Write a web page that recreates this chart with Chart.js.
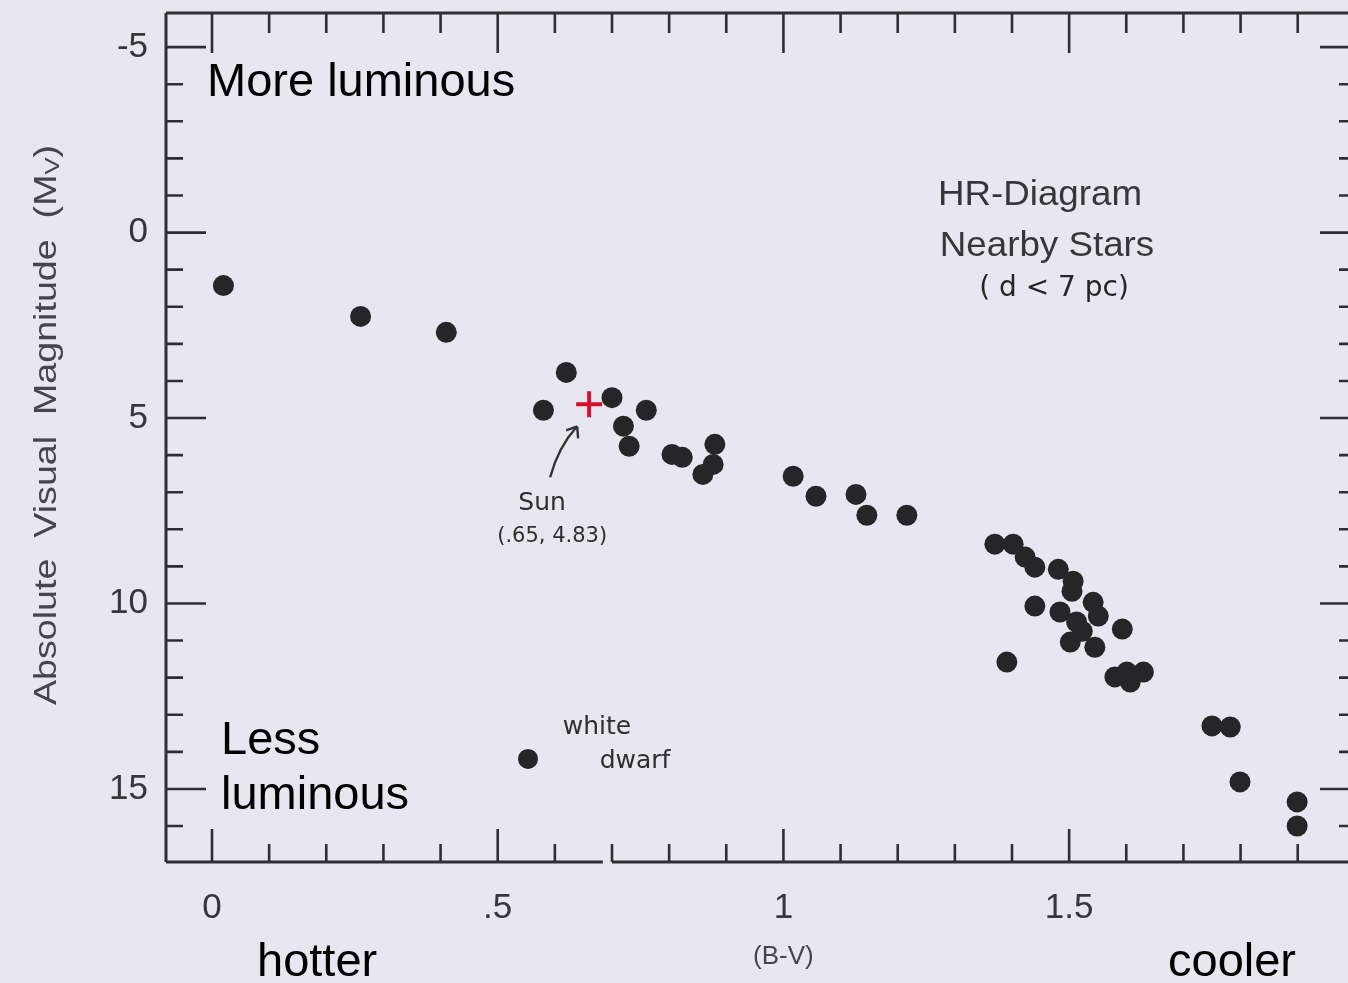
<!DOCTYPE html>
<html>
<head>
<meta charset="utf-8">
<script src="https://cdn.jsdelivr.net/npm/chart.js@4.4.1/dist/chart.umd.min.js"></script>
<style>
  html, body { margin: 0; padding: 0; background: #e8e7f1; overflow: hidden; width: 1348px; height: 983px; }
  #wrap { width: 1348px; height: 983px; position: absolute; left: 0; top: 0; }
  #c { display: block; }
</style>
</head>
<body>
<div id="wrap"><canvas id="c"></canvas></div>
<script>
// ---- data ----
// Main sequence stars: B-V colour index and absolute visual magnitude
const mainBV = [0.02, 0.26, 0.41, 0.58, 0.62, 0.70, 0.76, 0.72, 0.73, 0.805, 0.823, 0.88, 0.877, 0.859,
  1.017, 1.057, 1.127, 1.146, 1.216,
  1.370, 1.402, 1.423, 1.440, 1.481, 1.507, 1.505, 1.440, 1.484, 1.513, 1.523, 1.542, 1.551, 1.593,
  1.502, 1.545, 1.391, 1.580, 1.601, 1.630, 1.607,
  1.750, 1.782, 1.799, 1.899, 1.899];
const mainMv = [1.43, 2.26, 2.69, 4.79, 3.77, 4.45, 4.79, 5.22, 5.76, 5.98, 6.06, 5.71, 6.25, 6.52,
  6.57, 7.11, 7.06, 7.62, 7.62,
  8.40, 8.40, 8.75, 9.02, 9.08, 9.40, 9.67, 10.07, 10.23, 10.50, 10.75, 9.97, 10.34, 10.69,
  11.04, 11.18, 11.58, 11.98, 11.85, 11.85, 12.12,
  13.30, 13.33, 14.81, 15.35, 16.00];
// White dwarf
const dwarfBV = [0.553];
const dwarfMv = [14.19];
// The Sun (as drawn)
const sunBV = [0.66];
const sunMv = [4.63];

// Axis ticks
const xTickValues = [0, 0.1, 0.2, 0.3, 0.4, 0.5, 0.6, 0.7, 0.8, 0.9, 1.0, 1.1, 1.2, 1.3, 1.4, 1.5, 1.6, 1.7, 1.8, 1.9];
const xMajorValues = [0, 0.5, 1, 1.5];
const xMajorLabels = ['0', '.5', '1', '1.5'];
const yTickValues = [-5, -4, -3, -2, -1, 0, 1, 2, 3, 4, 5, 6, 7, 8, 9, 10, 11, 12, 13, 14, 15, 16];
const yMajorValues = [-5, 0, 5, 10, 15];
const yMajorLabels = ['-5', '0', '5', '10', '15'];
const xTitleText = '(B-V)';
const yTitleText = 'Absolute  Visual  Magnitude  (M';
const yTitleSub = 'V';

// ---- chart ----
const zip = (xs, ys) => xs.map((x, i) => ({ x: x, y: ys[i] }));
const isMajor = (v, list) => list.some(m => Math.abs(m - v) < 1e-6);
const labelFor = (v, vals, labels) => {
  const i = vals.findIndex(m => Math.abs(m - v) < 1e-6);
  return i >= 0 ? labels[i] : '';
};

const INK = '#2f2f33';
const TICKTXT = '#36363b';
const SANS = '"Liberation Sans", Arial, sans-serif';

const framePlugin = {
  id: 'frame',
  beforeDraw(chart) {
    const ctx = chart.ctx;
    ctx.save();
    ctx.fillStyle = '#e8e7f1';
    ctx.fillRect(0, 0, chart.width, chart.height);
    ctx.restore();
  },
  afterDatasetsDraw(chart) {
    const { ctx, chartArea: a, scales: { x, y } } = chart;
    ctx.save();
    ctx.strokeStyle = INK;
    ctx.lineWidth = 3;
    ctx.lineCap = 'butt';
    // box (bottom line has a small break in the original)
    const gapL = x.getPixelForValue(0.684), gapR = x.getPixelForValue(0.700);
    ctx.beginPath();
    ctx.moveTo(a.left, a.top); ctx.lineTo(a.right + 2, a.top);
    ctx.moveTo(a.left, a.top); ctx.lineTo(a.left, a.bottom);
    ctx.moveTo(a.left, a.bottom); ctx.lineTo(gapL, a.bottom);
    ctx.moveTo(gapR, a.bottom); ctx.lineTo(a.right + 2, a.bottom);
    ctx.stroke();
    ctx.lineWidth = 2.6;
    ctx.beginPath();
    // y ticks, left and right, pointing inward
    y.ticks.forEach(t => {
      const py = y.getPixelForValue(t.value);
      const maj = isMajor(t.value, yMajorValues);
      ctx.moveTo(a.left, py); ctx.lineTo(a.left + (maj ? 40 : 17), py);
      ctx.moveTo(a.right, py); ctx.lineTo(a.right - (maj ? 28 : 9), py);
    });
    // x ticks, top and bottom, pointing inward
    x.ticks.forEach(t => {
      const px = x.getPixelForValue(t.value);
      const maj = isMajor(t.value, xMajorValues);
      ctx.moveTo(px, a.top); ctx.lineTo(px, a.top + (maj ? 40 : 20));
      ctx.moveTo(px, a.bottom); ctx.lineTo(px, a.bottom - (maj ? 33 : 18));
    });
    ctx.stroke();

    // Sun arrow (hand drawn)
    const sx = x.getPixelForValue(sunBV[0]), sy = y.getPixelForValue(sunMv[0]);
    const ax0 = sx - 39, ay0 = sy + 73, ax1 = sx - 12, ay1 = sy + 22;
    ctx.lineWidth = 2.4;
    ctx.strokeStyle = '#333';
    ctx.beginPath();
    ctx.moveTo(ax0, ay0);
    ctx.quadraticCurveTo(ax0 + 8, ay0 - 30, ax1, ay1);
    ctx.moveTo(ax1, ay1); ctx.lineTo(ax1 - 11, ay1 + 4);
    ctx.moveTo(ax1, ay1); ctx.lineTo(ax1 + 1, ay1 + 12);
    ctx.stroke();

    // annotation texts
    const txt = (s, px, py, font, color, align, scaleX) => {
      ctx.save();
      ctx.font = font;
      ctx.fillStyle = color;
      ctx.textAlign = align || 'left';
      ctx.textBaseline = 'alphabetic';
      ctx.translate(px, py);
      ctx.scale(scaleX || 1, 1);
      ctx.fillText(s, 0, 0);
      ctx.restore();
    };
    const big = '47px ' + SANS;
    txt('More luminous', 207, 96, big, '#000');
    txt('Less', 221, 754, big, '#000');
    txt('luminous', 221, 809, big, '#000');
    txt('hotter', 257, 976, big, '#000');
    txt('cooler', 1168, 976, big, '#000');

    // x axis title under the "1" tick, as in the original
    txt(xTitleText, x.getPixelForValue(1), 964, '26px ' + SANS, '#45454b', 'center', 1.0);

    txt('HR-Diagram', 1040, 205, '35px ' + SANS, '#36363b', 'center', 1.05);
    txt('Nearby Stars', 1047, 256, '35px ' + SANS, '#36363b', 'center', 1.05);
    txt('( d < 7 pc)', 1054, 296, '28px "DejaVu Sans", sans-serif', '#262626', 'center', 1.0);

    const hand = '25px "DejaVu Sans", sans-serif';
    txt('Sun', sx - 47, sy + 106, hand, '#2e2e2e', 'center');
    txt('(.65, 4.83)', sx - 37, sy + 138, '21px "DejaVu Sans", sans-serif', '#2e2e2e', 'center');
    const wx = x.getPixelForValue(dwarfBV[0]), wy = y.getPixelForValue(dwarfMv[0]);
    txt('white', wx + 69, wy - 25, hand, '#2e2e2e', 'center');
    txt('dwarf', wx + 107, wy + 9, hand, '#2e2e2e', 'center');

    // y axis title, stretched along its length like the original scan
    ctx.save();
    ctx.translate(47, 425);
    ctx.rotate(-Math.PI / 2);
    ctx.fillStyle = '#45454b';
    ctx.textBaseline = 'middle';
    const mainFont = '31px ' + SANS, subFont = '21px ' + SANS;
    ctx.font = mainFont;
    const w1 = ctx.measureText(yTitleText).width;
    ctx.font = subFont;
    const w2 = ctx.measureText(yTitleSub).width;
    ctx.font = mainFont;
    const w3 = ctx.measureText(')').width;
    const total = w1 + w2 + w3;
    const k = 560 / total;
    ctx.scale(k, 1);
    let cx = -total / 2;
    ctx.textAlign = 'left';
    ctx.fillText(yTitleText, cx, 0); cx += w1;
    ctx.font = subFont; ctx.fillText(yTitleSub, cx, 6); cx += w2;
    ctx.font = mainFont; ctx.fillText(')', cx, 0);
    ctx.restore();

    ctx.restore();
  }
};

new Chart(document.getElementById('c'), {
  type: 'scatter',
  data: {
    datasets: [
      {
        label: 'Nearby stars',
        data: zip(mainBV, mainMv),
        backgroundColor: '#262628',
        borderColor: '#262628',
        pointRadius: 10.5,
        pointBorderWidth: 0
      },
      {
        label: 'White dwarf',
        data: zip(dwarfBV, dwarfMv),
        backgroundColor: '#262628',
        borderColor: '#262628',
        pointRadius: 10,
        pointBorderWidth: 0
      },
      {
        label: 'Sun',
        data: zip(sunBV, sunMv),
        pointStyle: 'cross',
        borderColor: '#d3112c',
        backgroundColor: '#d3112c',
        pointRadius: 13,
        pointBorderWidth: 4
      }
    ]
  },
  options: {
    responsive: true,
    maintainAspectRatio: false,
    animation: false,
    events: [],
    layout: { autoPadding: false, padding: { top: 13, right: 0, left: 0, bottom: 0 } },
    plugins: { legend: { display: false }, tooltip: { enabled: false } },
    scales: {
      x: {
        type: 'linear',
        position: 'bottom',
        min: -0.0805,
        max: 1.988,
        afterBuildTicks: s => { s.ticks = xTickValues.map(v => ({ value: v })); },
        afterFit: s => { s.height = 121; s.paddingLeft = 0; s.paddingRight = 0; s.paddingTop = 0; s.paddingBottom = 0; },
        grid: { display: false, drawTicks: false },
        border: { display: false },
        ticks: {
          autoSkip: false,
          maxRotation: 0,
          padding: 25,
          color: TICKTXT,
          font: { family: SANS, size: 35 },
          callback: v => labelFor(v, xMajorValues, xMajorLabels)
        },
        title: { display: false }
      },
      y: {
        type: 'linear',
        reverse: true,
        min: -5.92,
        max: 16.97,
        afterBuildTicks: s => { s.ticks = yTickValues.map(v => ({ value: v })); },
        afterFit: s => { s.width = 166; s.paddingLeft = 0; s.paddingRight = 0; s.paddingTop = 0; s.paddingBottom = 0; },
        grid: { display: false, drawTicks: false },
        border: { display: false },
        ticks: {
          autoSkip: false,
          padding: 18,
          color: TICKTXT,
          font: { family: SANS, size: 35 },
          callback: v => labelFor(v, yMajorValues, yMajorLabels)
        },
        title: { display: false }
      }
    }
  },
  plugins: [framePlugin]
});
</script>
</body>
</html>
